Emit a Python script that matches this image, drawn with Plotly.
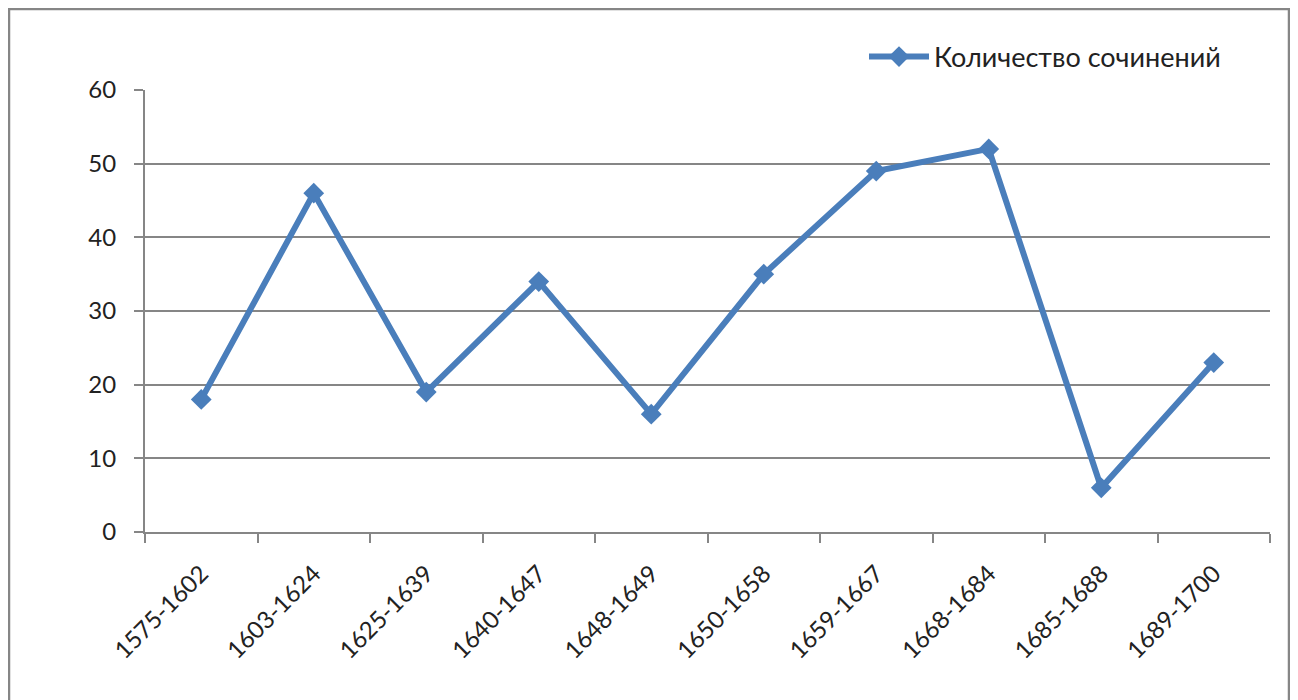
import plotly.graph_objects as go

categories = ["1575-1602", "1603-1624", "1625-1639", "1640-1647", "1648-1649",
              "1650-1658", "1659-1667", "1668-1684", "1685-1688", "1689-1700"]
values = [18, 46, 19, 34, 16, 35, 49, 52, 6, 23]
series_name = "Количество сочинений"

OFF = 8  # page body margin
W, H = 1290, 692
L, R, T, B = 145 - OFF, 1270 - OFF, 90 - OFF, 532 - OFF

fig = go.Figure()
fig.add_trace(go.Scatter(
    x=categories, y=values, name=series_name, mode="lines+markers",
    line=dict(color="#4A7EBB", width=6),
    marker=dict(symbol="diamond", size=16, color="#4A7EBB"),
))

grid = "#868686"
font = dict(family="Lato, 'Open Sans', sans-serif", size=24, color="#222222")
legend_font = dict(family="Lato, 'Open Sans', sans-serif", size=27, color="#222222")

def px_to_paper_x(px):
    return (px - OFF - L) / (R - L)

def px_to_paper_y(py):
    return (B - (py - OFF)) / (B - T)

fig.update_layout(
    width=W, height=H,
    margin=dict(l=L, r=W - R, t=T, b=H - B, autoexpand=False),
    paper_bgcolor="white", plot_bgcolor="white",
    font=font,
    showlegend=True,
    legend=dict(x=px_to_paper_x(864), y=px_to_paper_y(57), xanchor="left", yanchor="middle",
                font=legend_font, bgcolor="rgba(0,0,0,0)", itemwidth=60),
    xaxis=dict(type="category", range=[-0.5, len(categories) - 0.5],
               showgrid=False, showline=True, linecolor=grid, linewidth=2,
               ticks="outside", tickson="boundaries", ticklen=9, tickcolor=grid, tickwidth=2,
               tickangle=-45, tickfont=font, zeroline=False, ticklabelstandoff=16),
    yaxis=dict(range=[0, 60], dtick=10, showgrid=True, gridcolor=grid, gridwidth=2,
               showline=True, linecolor=grid, linewidth=2,
               ticks="outside", ticklen=9, tickcolor=grid, tickwidth=2,
               tickfont=font, zeroline=False, ticklabelstandoff=13),
    shapes=[dict(type="rect", xref="paper", yref="paper",
                 x0=px_to_paper_x(9), x1=px_to_paper_x(1289),
                 y0=px_to_paper_y(760), y1=px_to_paper_y(9),
                 line=dict(color=grid, width=2.5), fillcolor="rgba(0,0,0,0)", layer="below")],
)

fig.write_html("out.html")
